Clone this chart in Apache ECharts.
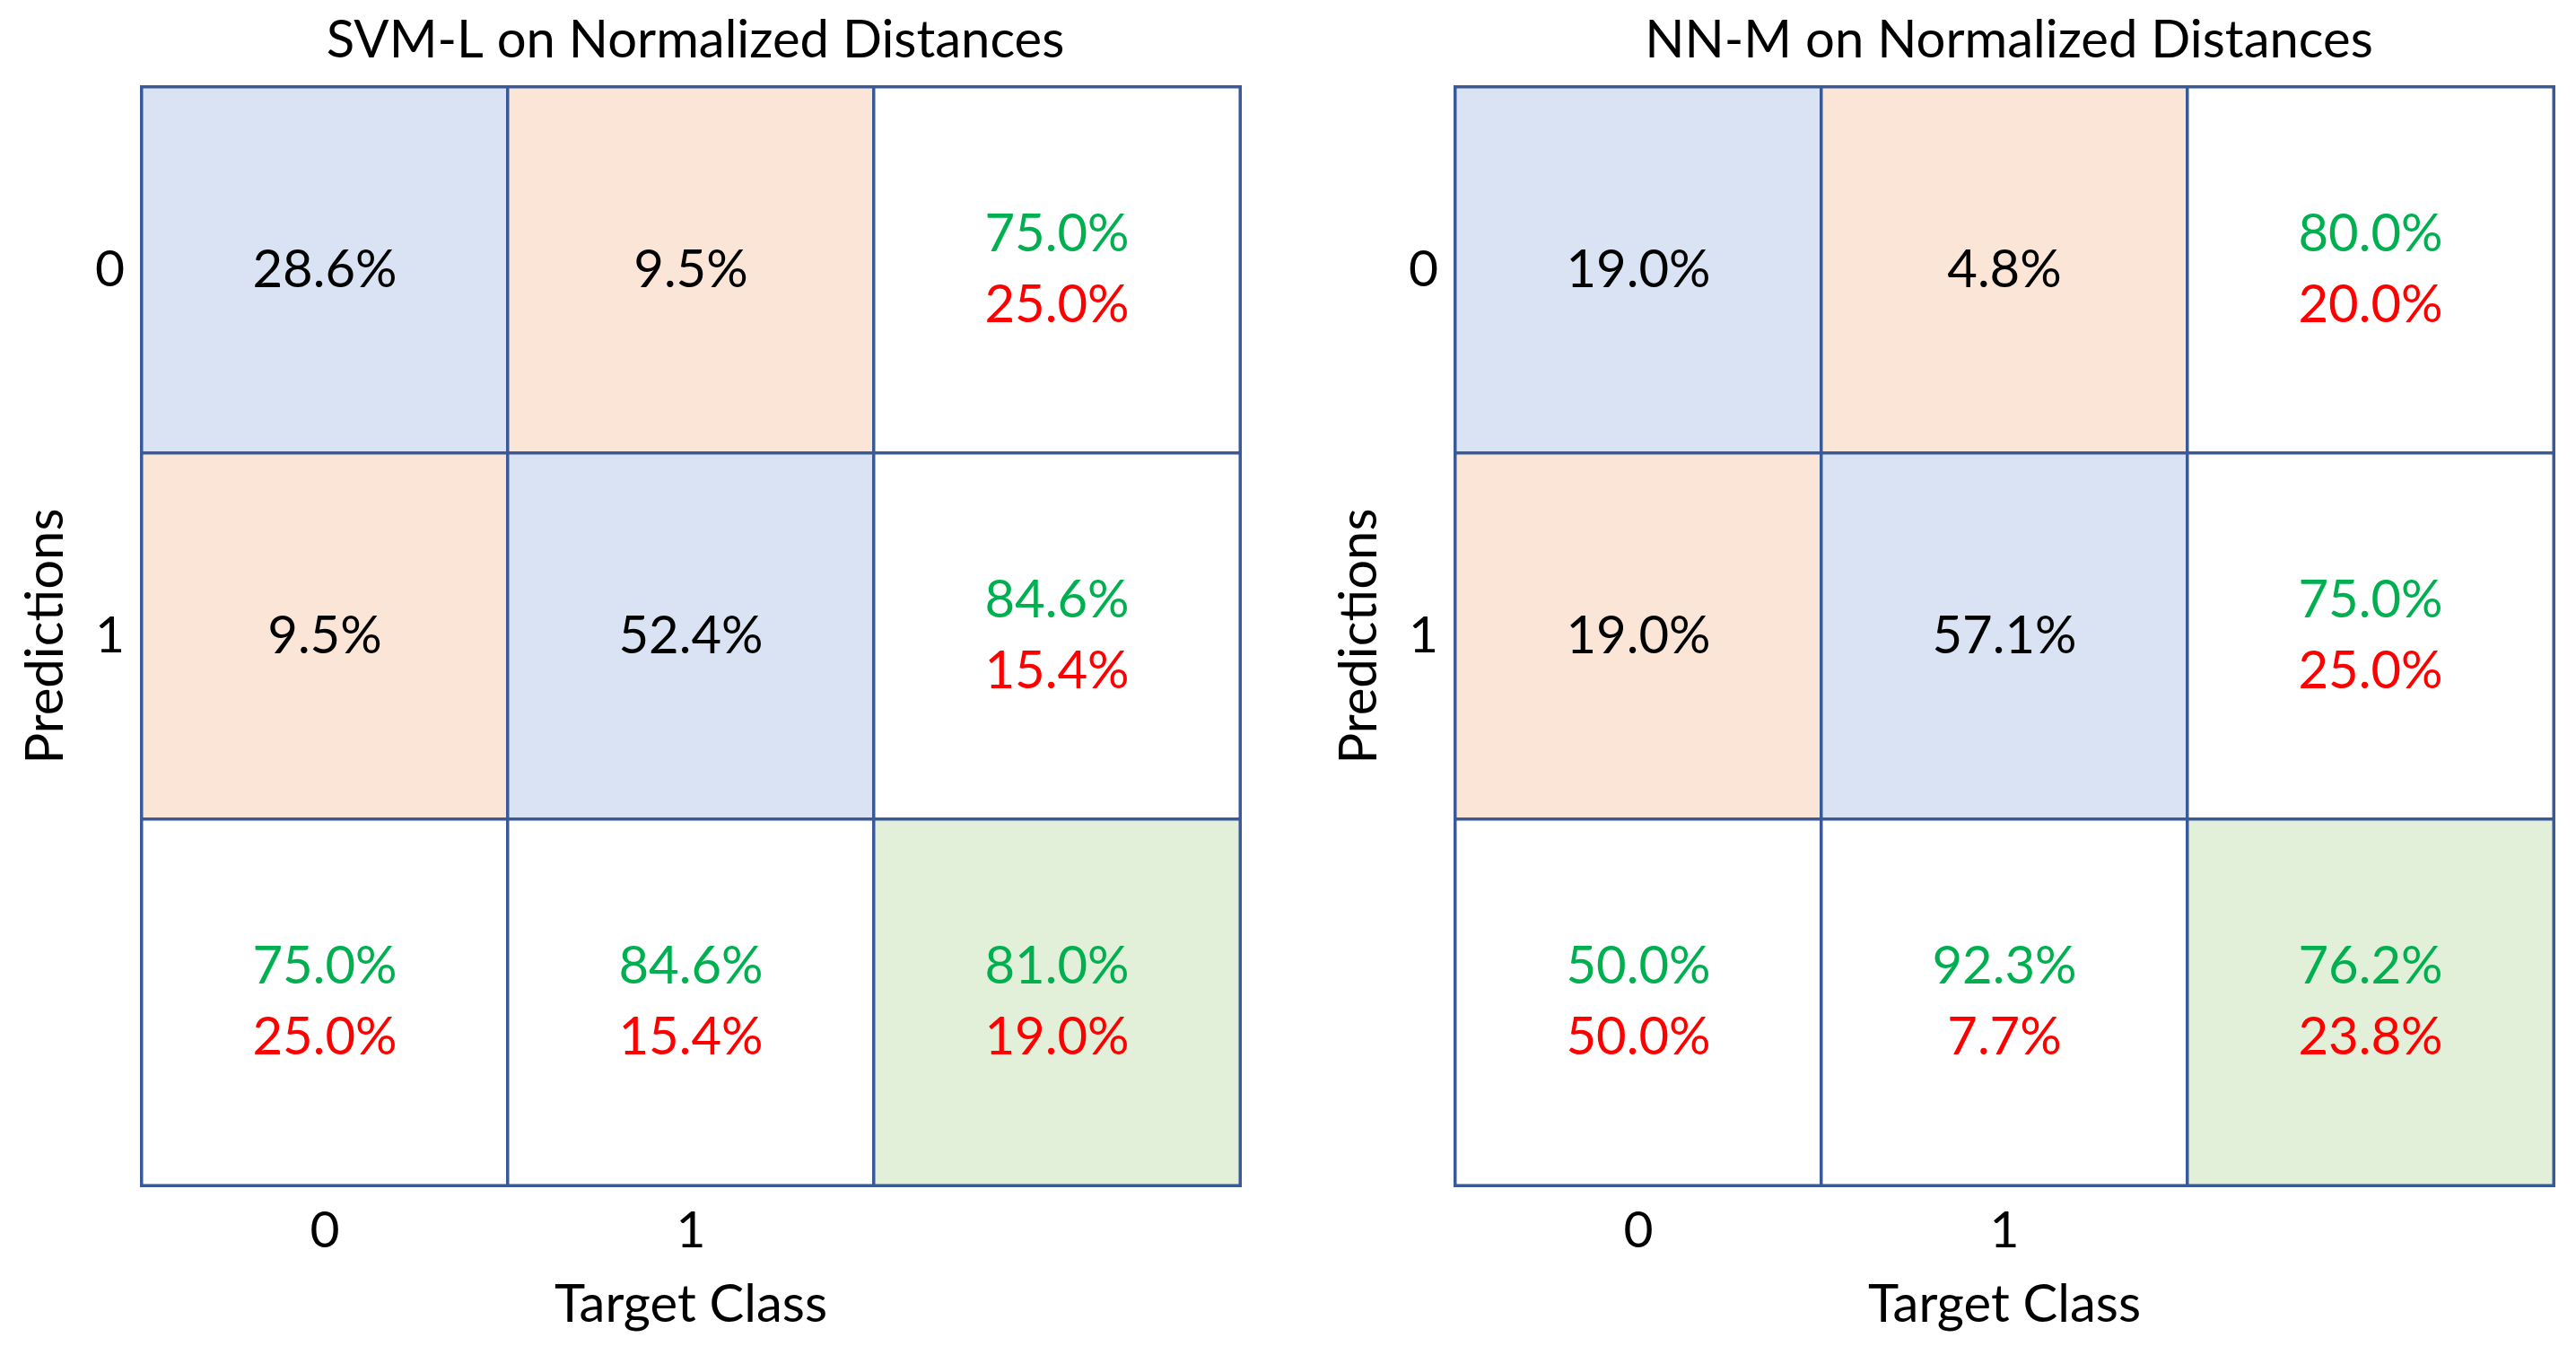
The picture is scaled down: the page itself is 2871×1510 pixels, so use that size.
<!DOCTYPE html>
<html>
<head>
<meta charset="utf-8">
<script src="https://cdn.jsdelivr.net/npm/echarts@6/dist/echarts.min.js"></script>
<style>
html,body{margin:0;padding:0;background:#fff;}
#chart{width:2871px;height:1510px;}
</style>
</head>
<body>
<div id="chart"></div>
<script>
// ---- data ----
const titles = ['SVM-L on Normalized Distances', 'NN-M on Normalized Distances'];
const targetLabels = ['0', '1', ''];
const predictionLabels = ['0', '1', ''];
const xAxisName = 'Target Class';
const yAxisName = 'Predictions';

// cells[prediction][target] in %
const svmCells = [[28.6, 9.5], [9.5, 52.4]];
const svmRowCorrect = [75.0, 84.6];
const svmRowWrong = [25.0, 15.4];
const svmColCorrect = [75.0, 84.6];
const svmColWrong = [25.0, 15.4];
const svmTotal = [81.0, 19.0];

const nnCells = [[19.0, 4.8], [19.0, 57.1]];
const nnRowCorrect = [80.0, 75.0];
const nnRowWrong = [20.0, 25.0];
const nnColCorrect = [50.0, 92.3];
const nnColWrong = [50.0, 7.7];
const nnTotal = [76.2, 23.8];

// ---- styles ----
const FONT = 'Lato';
const FS = 58;
const C_DIAG = '#DAE3F3', C_OFF = '#FBE5D6', C_SUM = '#FFFFFF', C_TOT = '#E2F0D9';
const C_BORDER = '#3A5998';
const C_GOOD = '#00B050', C_BAD = '#FF0000';

const pct = v => v.toFixed(1) + '%';

function buildData(cells, rowC, rowW, colC, colW, total) {
  const out = [];
  for (let p = 0; p < 3; p++) {
    for (let t = 0; t < 3; t++) {
      let color, text;
      if (p < 2 && t < 2) {
        color = p === t ? C_DIAG : C_OFF;
        text = '{n|' + pct(cells[p][t]) + '}';
      } else if (p < 2 && t === 2) {
        color = C_SUM;
        text = '{g|' + pct(rowC[p]) + '}\n{r|' + pct(rowW[p]) + '}';
      } else if (p === 2 && t < 2) {
        color = C_SUM;
        text = '{g|' + pct(colC[t]) + '}\n{r|' + pct(colW[t]) + '}';
      } else {
        color = C_TOT;
        text = '{g|' + pct(total[0]) + '}\n{r|' + pct(total[1]) + '}';
      }
      out.push({
        value: [t, p, 1],
        itemStyle: { color: color },
        label: { formatter: text }
      });
    }
  }
  return out;
}

const grids = [
  { left: 158, top: 97, width: 1224, height: 1224 },
  { left: 1622, top: 97, width: 1224, height: 1224 }
];

const datasets = [
  buildData(svmCells, svmRowCorrect, svmRowWrong, svmColCorrect, svmColWrong, svmTotal),
  buildData(nnCells, nnRowCorrect, nnRowWrong, nnColCorrect, nnColWrong, nnTotal)
];

const labelRich = {
  n: { color: '#000', fontFamily: FONT, fontSize: FS, lineHeight: 79 },
  g: { color: C_GOOD, fontFamily: FONT, fontSize: FS, lineHeight: 79 },
  r: { color: C_BAD, fontFamily: FONT, fontSize: FS, lineHeight: 79 }
};

const option = {
  backgroundColor: '#fff',
  animation: false,
  title: grids.map((g, i) => ({
    text: titles[i],
    left: g.left + g.width / 2,
    top: 11,
    textAlign: 'center',
    textStyle: { fontFamily: FONT, fontSize: 58, fontWeight: 'normal', color: '#000' }
  })),
  grid: grids,
  xAxis: grids.map((g, i) => ({
    type: 'category',
    gridIndex: i,
    data: targetLabels,
    name: xAxisName,
    nameLocation: 'middle',
    nameGap: 104,
    nameTextStyle: { fontFamily: FONT, fontSize: 58, color: '#000' },
    axisLine: { show: false },
    axisTick: { show: false },
    splitLine: { show: false },
    axisLabel: { fontFamily: FONT, fontSize: 57, color: '#000', margin: 22 }
  })),
  yAxis: grids.map((g, i) => ({
    type: 'category',
    gridIndex: i,
    inverse: true,
    data: predictionLabels,
    name: yAxisName,
    nameLocation: 'middle',
    nameGap: 78,
    nameTextStyle: { fontFamily: FONT, fontSize: 58, color: '#000' },
    axisLine: { show: false },
    axisTick: { show: false },
    splitLine: { show: false },
    axisLabel: { fontFamily: FONT, fontSize: 57, color: '#000', margin: 19 }
  })),
  series: datasets.map((d, i) => ({
    type: 'heatmap',
    xAxisIndex: i,
    yAxisIndex: i,
    data: d,
    itemStyle: { borderColor: C_BORDER, borderWidth: 3.5 },
    label: { show: true, rich: labelRich },
    emphasis: { disabled: true }
  }))
};

const chart = echarts.init(document.getElementById('chart'), null, { renderer: 'canvas' });
chart.setOption(option);
</script>
</body>
</html>
